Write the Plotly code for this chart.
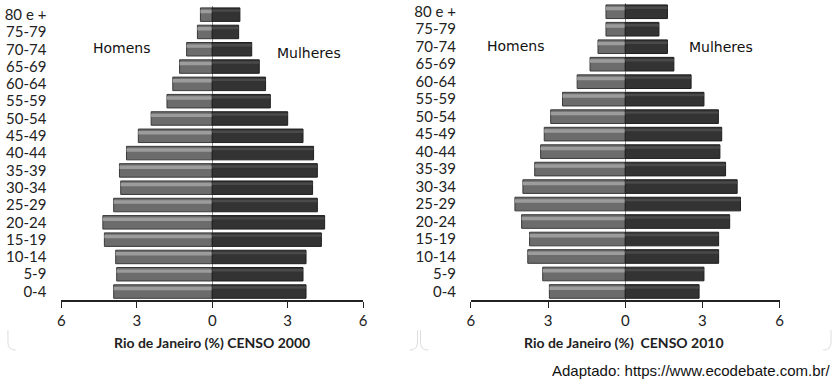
import plotly.graph_objects as go

ages = ["0-4", "5-9", "10-14", "15-19", "20-24", "25-29", "30-34", "35-39",
        "40-44", "45-49", "50-54", "55-59", "60-64", "65-69", "70-74", "75-79", "80 e +"]

# Censo 2000 (% of population), bottom (0-4) to top (80 e +)
men_2000 = [3.92, 3.80, 3.84, 4.29, 4.35, 3.92, 3.64, 3.69, 3.41, 2.94, 2.43, 1.80, 1.57, 1.30, 1.02, 0.59, 0.47]
women_2000 = [3.73, 3.61, 3.73, 4.34, 4.47, 4.18, 3.99, 4.18, 4.03, 3.61, 3.00, 2.31, 2.12, 1.87, 1.57, 1.05, 1.10]

# Censo 2010
men_2010 = [2.95, 3.21, 3.79, 3.72, 4.03, 4.29, 3.98, 3.52, 3.29, 3.15, 2.90, 2.44, 1.87, 1.37, 1.06, 0.75, 0.75]
women_2010 = [2.87, 3.06, 3.63, 3.63, 4.06, 4.48, 4.35, 3.90, 3.68, 3.75, 3.62, 3.06, 2.56, 1.89, 1.64, 1.31, 1.64]

tick_vals = [-6, -3, 0, 3, 6]
tick_text = ["6", "3", "0", "3", "6"]
titles = ["Rio de Janeiro (%) CENSO 2000", "Rio de Janeiro (%)  CENSO 2010"]

W, H = 839, 381
def px(x):
    return x / W
def py(y):
    return 1 - y / H

fig = go.Figure()

datasets = [(men_2000, women_2000, "x", "y"), (men_2010, women_2010, "x2", "y2")]
for men, women, xa, ya in datasets:
    neg = [-v for v in men]
    fig.add_trace(go.Bar(y=ages, x=neg, orientation="h", xaxis=xa, yaxis=ya,
                         width=0.78, marker=dict(color="#6c6c6c", line=dict(color="#3a3a3a", width=1)),
                         hoverinfo="skip", showlegend=False))
    fig.add_trace(go.Bar(y=ages, x=neg, orientation="h", xaxis=xa, yaxis=ya,
                         width=0.2, offset=0.08, marker=dict(color="#9c9c9c", line=dict(width=0)),
                         hoverinfo="skip", showlegend=False))
    fig.add_trace(go.Bar(y=ages, x=women, orientation="h", xaxis=xa, yaxis=ya,
                         width=0.78, marker=dict(color="#333333", line=dict(color="#1e1e1e", width=1)),
                         hoverinfo="skip", showlegend=False))
    fig.add_trace(go.Bar(y=ages, x=women, orientation="h", xaxis=xa, yaxis=ya,
                         width=0.14, offset=0.16, marker=dict(color="#4a4a4a", line=dict(width=0)),
                         hoverinfo="skip", showlegend=False))

tickfont = dict(family="Lato, Noto Sans, sans-serif", size=15, color="#222222")
xcommon = dict(range=[-6, 6], tickmode="array", tickvals=tick_vals, ticktext=tick_text, showgrid=False,
               zeroline=True, zerolinecolor="#8a8a8a", zerolinewidth=1,
               showline=True, linecolor="#222222", linewidth=1.5, ticks="outside",
               ticklen=6, tickcolor="#222222", tickfont=tickfont, fixedrange=True)
ycommon = dict(type="category", categoryorder="array", categoryarray=ages,
               tickmode="array", tickvals=ages, ticktext=ages,
               showgrid=False, showline=False, ticks="", tickfont=tickfont,
               ticklabelstandoff=14, range=[-0.5, len(ages) - 0.5], fixedrange=True)

fig.update_layout(
    width=W, height=H, margin=dict(l=0, r=0, t=0, b=0),
    paper_bgcolor="white", plot_bgcolor="white", barmode="overlay", bargap=0.2,
    xaxis=dict(domain=[px(58), px(363)], anchor="y", **xcommon),
    yaxis=dict(domain=[py(300), py(5)], anchor="x", **ycommon),
    xaxis2=dict(domain=[px(472), px(784)], anchor="y2", **xcommon),
    yaxis2=dict(domain=[py(300), py(2)], anchor="x2", **ycommon),
)

labfont = dict(family="DejaVu Sans", size=14, color="#111111")
titlefont = dict(family="Lato, Noto Sans, sans-serif", size=14, color="#222222", weight="bold")
ann = [
    dict(text="Homens", x=px(119), y=py(47), font=labfont),
    dict(text="Mulheres", x=px(308), y=py(52), font=labfont),
    dict(text="Homens", x=px(518), y=py(45), font=labfont),
    dict(text="Mulheres", x=px(725), y=py(46), font=labfont),
    dict(text=titles[0], x=px(210), y=py(342), font=titlefont),
    dict(text=titles[1], x=px(627), y=py(342), font=titlefont),
    dict(text="Adaptado: https://www.ecodebate.com.br/", x=px(837), y=py(370), xanchor="right",
         font=dict(family="Liberation Sans, Arial", size=15, color="#111111")),
]
for a in ann:
    a.setdefault("xanchor", "center")
    fig.add_annotation(xref="paper", yref="paper", showarrow=False, yanchor="middle", **a)

# faint rounded frame corners at the bottom of each panel
for x0, x1 in [(4, 418), (421, 836)]:
    r = 8
    ybot = 350
    path = (f"M {px(x0)},{py(ybot-20)} L {px(x0)},{py(ybot-r)} Q {px(x0)},{py(ybot)} {px(x0+r)},{py(ybot)} "
            f"M {px(x1-r)},{py(ybot)} Q {px(x1)},{py(ybot)} {px(x1)},{py(ybot-r)} L {px(x1)},{py(ybot-20)}")
    fig.add_shape(type="path", xref="paper", yref="paper", path=path,
                  line=dict(color="#dddddd", width=1))

fig.write_html("out.html", config={"displayModeBar": False},
               post_script="document.body.style.margin='0';")
